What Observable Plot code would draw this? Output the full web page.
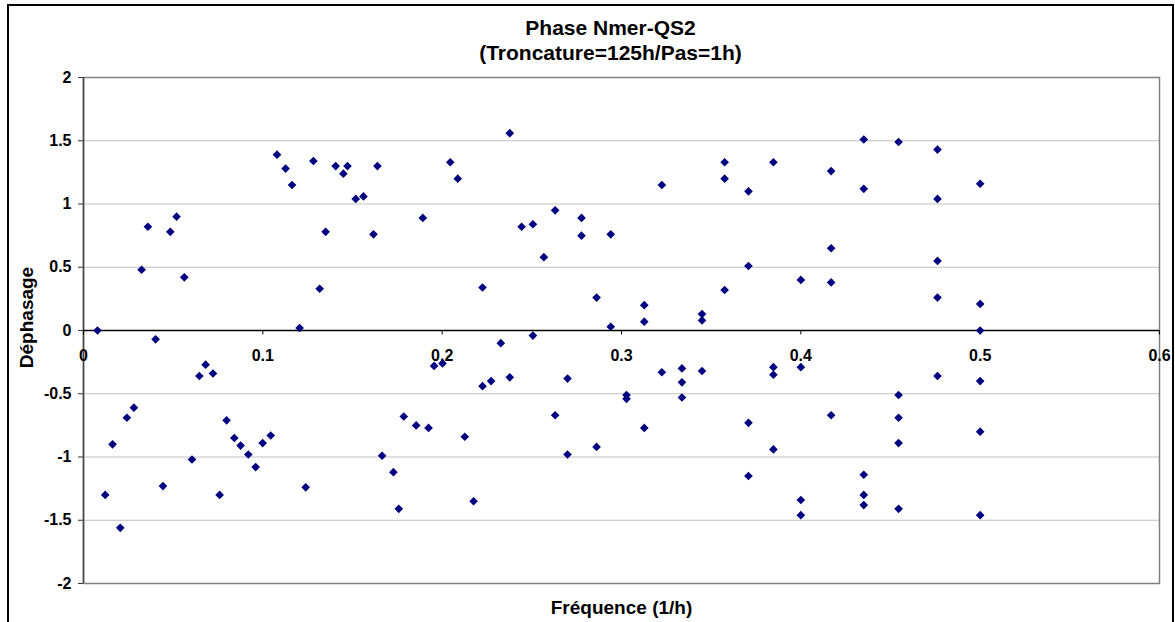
<!DOCTYPE html>
<html>
<head>
<meta charset="utf-8">
<script src="https://cdn.jsdelivr.net/npm/d3@7"></script>
<script src="https://cdn.jsdelivr.net/npm/@observablehq/plot@0.6"></script>
<style>
  html, body { margin: 0; padding: 0; background: #fff; }
  #wrap { position: relative; width: 1175px; height: 622px; overflow: hidden; font-family: "Liberation Sans", Arial, sans-serif; }
  #border { position: absolute; left: 7px; top: 4px; width: 1167px; height: 640px; border: 2px solid #000; box-sizing: border-box; }
  #chart { position: absolute; left: 0; top: 0; }
</style>
</head>
<body>
<div id="wrap"><div id="border"></div><div id="chart"></div></div>
<script>
const titleLines = ["Phase Nmer-QS2", "(Troncature=125h/Pas=1h)"];
const xLabel = "Fréquence (1/h)";
const yLabel = "Déphasage";
const xTicks = [0, 0.1, 0.2, 0.3, 0.4, 0.5, 0.6];
const xTickLabels = ["0", "0.1", "0.2", "0.3", "0.4", "0.5", "0.6"];
const yTicks = [-2, -1.5, -1, -0.5, 0, 0.5, 1, 1.5, 2];
const yTickLabels = ["-2", "-1.5", "-1", "-0.5", "0", "0.5", "1", "1.5", "2"];

const frequence = [
  0.0078, 0.0121, 0.0162, 0.0205, 0.0242, 0.0281, 0.0324, 0.0359, 0.0402, 0.0443,
  0.0484, 0.0519, 0.0562, 0.0605, 0.0646, 0.0681, 0.0722, 0.0759, 0.0798, 0.0841,
  0.0876, 0.0919, 0.0960, 0.0999, 0.1044, 0.1079, 0.1127, 0.1163, 0.1205, 0.1239,
  0.1282, 0.1317, 0.1350, 0.1406, 0.1449, 0.1472, 0.1518, 0.1561, 0.1617, 0.1639,
  0.1665, 0.1728, 0.1758, 0.1786, 0.1855, 0.1892, 0.1924, 0.1955, 0.2002, 0.2045,
  0.2087, 0.2126, 0.2175, 0.2225, 0.2225, 0.2273, 0.2327, 0.2377, 0.2377, 0.2443,
  0.2506, 0.2506, 0.2567, 0.2630, 0.2630, 0.2699, 0.2699, 0.2777, 0.2777, 0.2861,
  0.2861, 0.2940, 0.2940, 0.3028, 0.3028, 0.3127, 0.3127, 0.3127, 0.3225, 0.3225,
  0.3337, 0.3337, 0.3337, 0.3449, 0.3449, 0.3449, 0.3575, 0.3575, 0.3575, 0.3708,
  0.3708, 0.3708, 0.3708, 0.3847, 0.3847, 0.3847, 0.3847, 0.4, 0.4, 0.4,
  0.4, 0.4169, 0.4169, 0.4169, 0.4169, 0.4351, 0.4351, 0.4351, 0.4351, 0.4351,
  0.4545, 0.4545, 0.4545, 0.4545, 0.4545, 0.4762, 0.4762, 0.4762, 0.4762, 0.4762,
  0.5, 0.5, 0.5, 0.5, 0.5, 0.5
];
const dephasage = [
  0.00, -1.30, -0.90, -1.56, -0.69, -0.61, 0.48, 0.82, -0.07, -1.23,
  0.78, 0.90, 0.42, -1.02, -0.36, -0.27, -0.34, -1.30, -0.71, -0.85,
  -0.91, -0.98, -1.08, -0.89, -0.83, 1.39, 1.28, 1.15, 0.02, -1.24,
  1.34, 0.33, 0.78, 1.30, 1.24, 1.30, 1.04, 1.06, 0.76, 1.30,
  -0.99, -1.12, -1.41, -0.68, -0.75, 0.89, -0.77, -0.28, -0.26, 1.33,
  1.20, -0.84, -1.35, 0.34, -0.44, -0.40, -0.10, 1.56, -0.37, 0.82,
  0.84, -0.04, 0.58, 0.95, -0.67, -0.38, -0.98, 0.89, 0.75, 0.26,
  -0.92, 0.76, 0.03, -0.51, -0.54, 0.20, 0.07, -0.77, 1.15, -0.33,
  -0.30, -0.41, -0.53, 0.13, 0.08, -0.32, 1.33, 1.20, 0.32, 1.10,
  0.51, -0.73, -1.15, 1.33, -0.29, -0.35, -0.94, 0.40, -0.29, -1.34,
  -1.46, 1.26, 0.65, 0.38, -0.67, 1.51, 1.12, -1.14, -1.30, -1.38,
  1.49, -0.51, -0.69, -0.89, -1.41, 1.43, 1.04, 0.55, 0.26, -0.36,
  1.16, 0.21, 0.00, -0.40, -0.80, -1.46
];

const points = frequence.map((f, i) => ({f, p: dephasage[i]}));
const xTickData = xTicks.map((v, i) => ({v, label: xTickLabels[i]}));
const fontFam = "Liberation Sans, Arial, sans-serif";

const chart = Plot.plot({
  width: 1175,
  height: 622,
  marginLeft: 83,
  marginRight: 16,
  marginTop: 77,
  marginBottom: 39,
  style: {fontFamily: fontFam, background: "transparent", overflow: "visible"},
  x: {domain: [0, 0.6], axis: null},
  y: {domain: [-2, 2], axis: null},
  marks: [
    Plot.ruleY(yTicks, {stroke: "#c0c0c0", strokeWidth: 1}),
    Plot.frame({stroke: "#808080", strokeWidth: 1.5}),
    Plot.axisY({
      ticks: yTicks,
      tickSize: 5,
      tickPadding: 7,
      tickFormat: (d) => yTickLabels[yTicks.indexOf(d)],
      fontSize: 16,
      fontWeight: "bold",
      stroke: "#333",
      color: "#000",
      label: null
    }),
    Plot.ruleX([0], {stroke: "#444", strokeWidth: 1.5}),
    Plot.ruleY([0], {stroke: "#000", strokeWidth: 1.5}),
    Plot.ruleX(xTicks, {y1: 0, y2: -0.035, stroke: "#000"}),
    Plot.text(xTickData, {x: "v", y: 0, dy: 25, text: "label", fontSize: 16, fontWeight: "bold", fill: "#000"}),
    Plot.dot(points, {x: "f", y: "p", symbol: "diamond2", r: 3.9, fill: "#000080", stroke: "none"}),
    Plot.text([titleLines[0]], {frameAnchor: "top", dx: -11, dy: -49, lineAnchor: "middle", textAnchor: "middle", fontSize: 21, fontWeight: "bold", fill: "#000"}),
    Plot.text([titleLines[1]], {frameAnchor: "top", dx: -11, dy: -24, lineAnchor: "middle", textAnchor: "middle", fontSize: 21, fontWeight: "bold", fill: "#000"}),
    Plot.text([xLabel], {frameAnchor: "bottom", dy: 24, lineAnchor: "middle", textAnchor: "middle", fontSize: 19, fontWeight: "bold", fill: "#000"}),
    Plot.text([yLabel], {frameAnchor: "left", rotate: -90, dx: -57, dy: -13, lineAnchor: "middle", textAnchor: "middle", fontSize: 19, fontWeight: "bold", fill: "#000"})
  ]
});
document.getElementById("chart").appendChild(chart);
</script>
</body>
</html>
